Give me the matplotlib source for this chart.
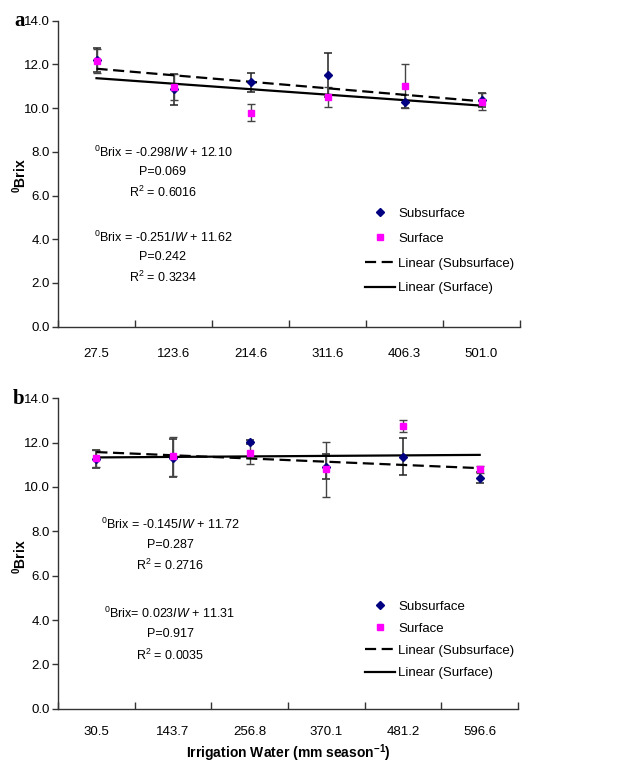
import numpy as np
import matplotlib
matplotlib.use("Agg")
import matplotlib.pyplot as plt
from matplotlib.lines import Line2D

plt.rcParams['font.family'] = ['Liberation Sans', 'DejaVu Sans']
plt.rcParams['mathtext.fontset'] = 'custom'
plt.rcParams['mathtext.rm'] = 'Liberation Sans'
plt.rcParams['mathtext.it'] = 'Liberation Sans:italic'
plt.rcParams['mathtext.bf'] = 'Liberation Sans:bold'

# panel a
cats_a = ["27.5", "123.6", "214.6", "311.6", "406.3", "501.0"]
sub_a = [12.19, 10.86, 11.18, 11.53, 10.30, 10.37]
sub_a_err = [0.55, 0.70, 0.42, 1.00, 0.30, 0.30]
surf_a = [12.16, 10.98, 9.79, 10.50, 11.01, 10.30]
surf_a_err = [0.55, 0.60, 0.40, 0.45, 1.00, 0.40]
fit_a = {"sub": (-0.298, 12.10), "surf": (-0.251, 11.62)}
notes_a = [
    [r"$^0$Brix = -0.298$\it{IW}$ + 12.10", "P=0.069", r"R$^2$ = 0.6016"],
    [r"$^0$Brix = -0.251$\it{IW}$ + 11.62", "P=0.242", r"R$^2$ = 0.3234"],
]

# panel b
cats_b = ["30.5", "143.7", "256.8", "370.1", "481.2", "596.6"]
sub_b = [11.25, 11.30, 12.04, 10.92, 11.37, 10.42]
sub_b_err = [0.40, 0.87, 0.08, 0.55, 0.82, 0.25]
surf_b = [11.29, 11.38, 11.53, 10.80, 12.75, 10.80]
surf_b_err = [0.40, 0.87, 0.50, 1.25, 0.27, 0.15]
fit_b = {"sub": (-0.145, 11.72), "surf": (0.023, 11.31)}
notes_b = [
    [r"$^0$Brix = -0.145$\it{IW}$ + 11.72", "P=0.287", r"R$^2$ = 0.2716"],
    [r"$^0$Brix= 0.023$\it{IW}$ + 11.31", "P=0.917", r"R$^2$ = 0.0035"],
]

W, H = 633, 762
fig = plt.figure(figsize=(W / 100, H / 100), dpi=100)


def fx(px):
    return px / W


def fy(py):
    return 1 - py / H


def draw_panel(ax, cats, sub, sub_err, surf, surf_err, fit, xpad):
    x = np.arange(1, len(cats) + 1)
    ax.errorbar(x, sub, yerr=sub_err, fmt='none', ecolor='#222222',
                elinewidth=1.1, capsize=2.8, capthick=1.1, zorder=2)
    ax.errorbar(x, surf, yerr=surf_err, fmt='none', ecolor='#444444',
                elinewidth=1.0, capsize=2.8, capthick=1.0, zorder=2)
    ax.plot(x, sub, 'D', color='#000080', ms=4, ls='none', zorder=4)
    ax.plot(x, surf, 's', color='#FF00FF', ms=4.2, ls='none', zorder=5)
    m, b = fit["sub"]
    ax.plot(x, m * x + b, color='black', lw=1.6, dashes=(5, 2.5), zorder=3)
    m, b = fit["surf"]
    ax.plot(x, m * x + b, color='black', lw=1.6, zorder=3)

    ax.set_xlim(0.5, len(cats) + 0.5)
    ax.set_ylim(0, 14)
    ax.set_yticks(np.arange(0, 14.1, 2))
    ax.set_yticklabels([f"{v:.1f}" for v in np.arange(0, 14.1, 2)], fontsize=9.5)
    ax.set_xticks(np.arange(0.5, len(cats) + 1, 1))
    ax.set_xticklabels([])
    ax.set_xticks(x, minor=True)
    ax.set_xticklabels(cats, minor=True, fontsize=9.5)
    ax.tick_params(axis='x', which='major', direction='in', length=5, width=1, color='#333333')
    ax.tick_params(axis='x', which='minor', length=0, pad=xpad)
    ax.tick_params(axis='y', direction='out', length=4, width=1, pad=2, color='#333333')
    for s in ('top', 'right'):
        ax.spines[s].set_visible(False)
    for s in ('left', 'bottom'):
        ax.spines[s].set_color('#333333')
        ax.spines[s].set_linewidth(1.0)


def legend(ax, y_top, spacing):
    handles = [
        Line2D([], [], marker='D', color='#000080', ms=4, ls='none'),
        Line2D([], [], marker='s', color='#FF00FF', ms=4, ls='none'),
        Line2D([], [], color='black', lw=1.6, dashes=(5, 2.5)),
        Line2D([], [], color='black', lw=1.6),
    ]
    labels = ["Subsurface", "Surface", "Linear (Subsurface)", "Linear (Surface)"]
    ax.legend(handles, labels, loc='upper left', bbox_to_anchor=(fx(365), fy(y_top)),
              bbox_transform=fig.transFigure, frameon=False, fontsize=9.5,
              handlelength=2.3, handletextpad=0.2, labelspacing=spacing,
              borderpad=0, borderaxespad=0)


ax_a = fig.add_axes([fx(58), fy(326.7), 462 / W, 306 / H])
draw_panel(ax_a, cats_a, sub_a, sub_a_err, surf_a, surf_a_err, fit_a, 15)
legend(ax_a, 207.5, 0.96)

ax_b = fig.add_axes([fx(58), fy(708.7), 460 / W, 310.4 / H])
draw_panel(ax_b, cats_b, sub_b, sub_b_err, surf_b, surf_b_err, fit_b, 12.5)
legend(ax_b, 600.5, 0.75)

# regression notes (baselines)
for block, cx, ys in [(notes_a[0], 163, [156.7, 175, 196.7]),
                      (notes_a[1], 163, [241.7, 260, 281.7]),
                      (notes_b[0], 170, [529, 548.3, 570]),
                      (notes_b[1], 170, [618.3, 636.7, 660])]:
    for txt, yy in zip(block, ys):
        fig.text(fx(cx), fy(yy), txt, ha='center', va='baseline', fontsize=9)

# panel letters
fig.text(fx(14), fy(26), "a", fontsize=15, fontweight='bold', family='Liberation Serif',
         ha='left', va='baseline')
fig.text(fx(13), fy(404), "b", fontsize=15, fontweight='bold', family='Liberation Serif',
         ha='left', va='baseline')

# axis labels
for yc in (176, 557):
    fig.text(fx(20), fy(yc), r"$^{\mathbf{0}}$Brix", rotation=90, ha='center', va='center',
             fontsize=10, fontweight='bold')
fig.text(fx(288), fy(757.5), r"Irrigation Water (mm season$^{\mathbf{-1}}$)", ha='center',
         va='baseline', fontsize=10, fontweight='bold')

fig.savefig("out.png", dpi=100)
